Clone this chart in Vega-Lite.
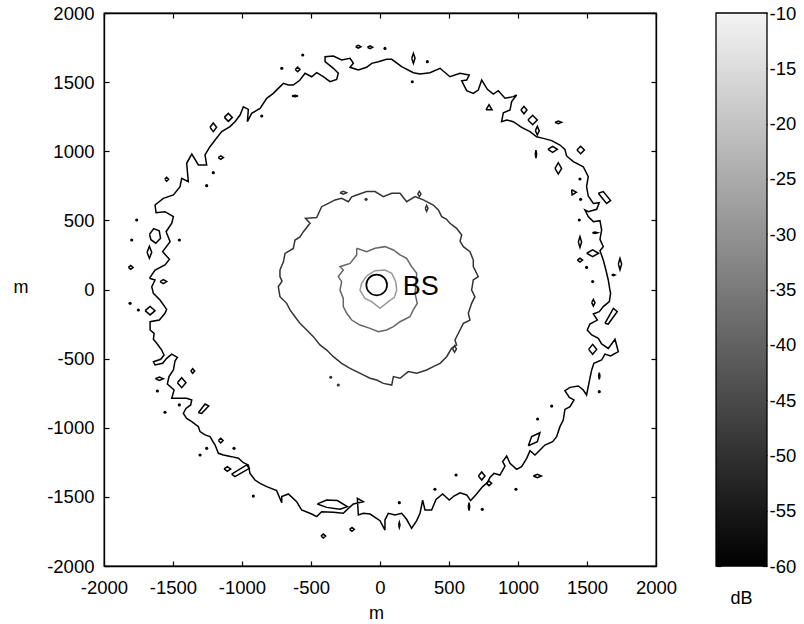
{
"$schema":"https://vega.github.io/schema/vega-lite/v6.json",
"width":552,"height":553,
"autosize":"none",
"padding":{"left":104,"top":13,"right":148,"bottom":58},
"config":{"font":"Liberation Sans","view":{"stroke":"#000","strokeWidth":1.3},
"axis":{"domainColor":"#000","domainWidth":1.3,"tickColor":"#000","tickWidth":1.2,"tickSize":-5,"labelColor":"#000","labelFontSize":18.5,"titleFontSize":18,"titleFontWeight":"normal","titleColor":"#000","grid":false,"labelFlush":false,"labelOverlap":false}},
"datasets":{
"rings":[
{"g":"o","v":-60,"x":-1671,"y":81},{"g":"o","v":-60,"x":-1630,"y":141},{"g":"o","v":-60,"x":-1558,"y":177},{"g":"o","v":-60,"x":-1526,"y":218},{"g":"o","v":-60,"x":-1575,"y":274},{"g":"o","v":-60,"x":-1521,"y":346},{"g":"o","v":-60,"x":-1550,"y":418},{"g":"o","v":-60,"x":-1509,"y":479},{"g":"o","v":-60,"x":-1497,"y":527},{"g":"o","v":-60,"x":-1558,"y":563},
{"g":"o","v":-60,"x":-1623,"y":556},{"g":"o","v":-60,"x":-1630,"y":611},{"g":"o","v":-60,"x":-1570,"y":659},{"g":"o","v":-60,"x":-1497,"y":684},{"g":"o","v":-60,"x":-1449,"y":744},{"g":"o","v":-60,"x":-1437,"y":804},{"g":"o","v":-60,"x":-1389,"y":780},{"g":"o","v":-60,"x":-1401,"y":913},{"g":"o","v":-60,"x":-1364,"y":980},{"g":"o","v":-60,"x":-1316,"y":901},
{"g":"o","v":-60,"x":-1256,"y":901},{"g":"o","v":-60,"x":-1268,"y":973},{"g":"o","v":-60,"x":-1232,"y":1033},{"g":"o","v":-60,"x":-1195,"y":1081},{"g":"o","v":-60,"x":-1147,"y":1142},{"g":"o","v":-60,"x":-1087,"y":1178},{"g":"o","v":-60,"x":-1051,"y":1214},{"g":"o","v":-60,"x":-1014,"y":1262},{"g":"o","v":-60,"x":-990,"y":1322},{"g":"o","v":-60,"x":-954,"y":1303},
{"g":"o","v":-60,"x":-961,"y":1214},{"g":"o","v":-60,"x":-930,"y":1274},{"g":"o","v":-60,"x":-869,"y":1310},{"g":"o","v":-60,"x":-821,"y":1383},{"g":"o","v":-60,"x":-773,"y":1419},{"g":"o","v":-60,"x":-737,"y":1455},{"g":"o","v":-60,"x":-700,"y":1491},{"g":"o","v":-60,"x":-664,"y":1479},{"g":"o","v":-60,"x":-628,"y":1479},{"g":"o","v":-60,"x":-580,"y":1515},
{"g":"o","v":-60,"x":-543,"y":1564},{"g":"o","v":-60,"x":-495,"y":1539},{"g":"o","v":-60,"x":-459,"y":1568},{"g":"o","v":-60,"x":-411,"y":1539},{"g":"o","v":-60,"x":-362,"y":1503},{"g":"o","v":-60,"x":-314,"y":1520},{"g":"o","v":-60,"x":-302,"y":1564},{"g":"o","v":-60,"x":-338,"y":1600},{"g":"o","v":-60,"x":-398,"y":1648},{"g":"o","v":-60,"x":-398,"y":1684},
{"g":"o","v":-60,"x":-338,"y":1689},{"g":"o","v":-60,"x":-278,"y":1660},{"g":"o","v":-60,"x":-217,"y":1672},{"g":"o","v":-60,"x":-193,"y":1636},{"g":"o","v":-60,"x":-217,"y":1607},{"g":"o","v":-60,"x":-157,"y":1588},{"g":"o","v":-60,"x":-97,"y":1607},{"g":"o","v":-60,"x":-60,"y":1636},{"g":"o","v":-60,"x":-12,"y":1648},{"g":"o","v":-60,"x":48,"y":1665},
{"g":"o","v":-60,"x":85,"y":1665},{"g":"o","v":-60,"x":157,"y":1612},{"g":"o","v":-60,"x":242,"y":1568},{"g":"o","v":-60,"x":290,"y":1559},{"g":"o","v":-60,"x":362,"y":1568},{"g":"o","v":-60,"x":435,"y":1600},{"g":"o","v":-60,"x":507,"y":1539},{"g":"o","v":-60,"x":580,"y":1564},{"g":"o","v":-60,"x":647,"y":1551},{"g":"o","v":-60,"x":628,"y":1515},
{"g":"o","v":-60,"x":592,"y":1510},{"g":"o","v":-60,"x":628,"y":1438},{"g":"o","v":-60,"x":676,"y":1419},{"g":"o","v":-60,"x":712,"y":1443},{"g":"o","v":-60,"x":737,"y":1515},{"g":"o","v":-60,"x":778,"y":1448},{"g":"o","v":-60,"x":821,"y":1414},{"g":"o","v":-60,"x":857,"y":1438},{"g":"o","v":-60,"x":906,"y":1383},{"g":"o","v":-60,"x":966,"y":1395},
{"g":"o","v":-60,"x":990,"y":1407},{"g":"o","v":-60,"x":954,"y":1359},{"g":"o","v":-60,"x":942,"y":1298},{"g":"o","v":-60,"x":894,"y":1279},{"g":"o","v":-60,"x":881,"y":1214},{"g":"o","v":-60,"x":918,"y":1226},{"g":"o","v":-60,"x":966,"y":1214},{"g":"o","v":-60,"x":1026,"y":1173},{"g":"o","v":-60,"x":1087,"y":1142},{"g":"o","v":-60,"x":1135,"y":1105},
{"g":"o","v":-60,"x":1183,"y":1093},{"g":"o","v":-60,"x":1244,"y":1077},{"g":"o","v":-60,"x":1304,"y":1045},{"g":"o","v":-60,"x":1340,"y":1014},{"g":"o","v":-60,"x":1352,"y":966},{"g":"o","v":-60,"x":1401,"y":925},{"g":"o","v":-60,"x":1473,"y":888},{"g":"o","v":-60,"x":1509,"y":816},{"g":"o","v":-60,"x":1497,"y":744},{"g":"o","v":-60,"x":1509,"y":676},
{"g":"o","v":-60,"x":1546,"y":623},{"g":"o","v":-60,"x":1589,"y":628},{"g":"o","v":-60,"x":1570,"y":580},{"g":"o","v":-60,"x":1509,"y":563},{"g":"o","v":-60,"x":1485,"y":575},{"g":"o","v":-60,"x":1509,"y":527},{"g":"o","v":-60,"x":1546,"y":491},{"g":"o","v":-60,"x":1594,"y":498},{"g":"o","v":-60,"x":1606,"y":430},{"g":"o","v":-60,"x":1594,"y":363},
{"g":"o","v":-60,"x":1618,"y":310},{"g":"o","v":-60,"x":1594,"y":281},{"g":"o","v":-60,"x":1618,"y":213},{"g":"o","v":-60,"x":1637,"y":141},{"g":"o","v":-60,"x":1654,"y":69},{"g":"o","v":-60,"x":1666,"y":-4},{"g":"o","v":-60,"x":1671,"y":-28},{"g":"o","v":-60,"x":1662,"y":-88},{"g":"o","v":-60,"x":1618,"y":-124},{"g":"o","v":-60,"x":1589,"y":-160},
{"g":"o","v":-60,"x":1546,"y":-177},{"g":"o","v":-60,"x":1575,"y":-221},{"g":"o","v":-60,"x":1521,"y":-250},{"g":"o","v":-60,"x":1502,"y":-293},{"g":"o","v":-60,"x":1534,"y":-329},{"g":"o","v":-60,"x":1582,"y":-353},{"g":"o","v":-60,"x":1606,"y":-394},{"g":"o","v":-60,"x":1654,"y":-426},{"g":"o","v":-60,"x":1703,"y":-360},{"g":"o","v":-60,"x":1727,"y":-450},
{"g":"o","v":-60,"x":1671,"y":-481},{"g":"o","v":-60,"x":1630,"y":-467},{"g":"o","v":-60,"x":1606,"y":-510},{"g":"o","v":-60,"x":1550,"y":-534},{"g":"o","v":-60,"x":1534,"y":-582},{"g":"o","v":-60,"x":1521,"y":-643},{"g":"o","v":-60,"x":1497,"y":-763},{"g":"o","v":-60,"x":1473,"y":-727},{"g":"o","v":-60,"x":1437,"y":-698},{"g":"o","v":-60,"x":1377,"y":-708},
{"g":"o","v":-60,"x":1340,"y":-732},{"g":"o","v":-60,"x":1372,"y":-780},{"g":"o","v":-60,"x":1406,"y":-799},{"g":"o","v":-60,"x":1377,"y":-847},{"g":"o","v":-60,"x":1340,"y":-867},{"g":"o","v":-60,"x":1328,"y":-944},{"g":"o","v":-60,"x":1304,"y":-992},{"g":"o","v":-60,"x":1280,"y":-1064},{"g":"o","v":-60,"x":1251,"y":-1101},{"g":"o","v":-60,"x":1195,"y":-1125},
{"g":"o","v":-60,"x":1147,"y":-1173},{"g":"o","v":-60,"x":1123,"y":-1197},{"g":"o","v":-60,"x":1087,"y":-1166},{"g":"o","v":-60,"x":1063,"y":-1221},{"g":"o","v":-60,"x":1026,"y":-1281},{"g":"o","v":-60,"x":990,"y":-1301},{"g":"o","v":-60,"x":942,"y":-1257},{"g":"o","v":-60,"x":918,"y":-1204},{"g":"o","v":-60,"x":889,"y":-1245},{"g":"o","v":-60,"x":906,"y":-1277},
{"g":"o","v":-60,"x":869,"y":-1342},{"g":"o","v":-60,"x":826,"y":-1330},{"g":"o","v":-60,"x":797,"y":-1359},{"g":"o","v":-60,"x":778,"y":-1397},{"g":"o","v":-60,"x":744,"y":-1426},{"g":"o","v":-60,"x":700,"y":-1479},{"g":"o","v":-60,"x":657,"y":-1527},{"g":"o","v":-60,"x":628,"y":-1486},{"g":"o","v":-60,"x":580,"y":-1470},{"g":"o","v":-60,"x":536,"y":-1494},
{"g":"o","v":-60,"x":502,"y":-1523},{"g":"o","v":-60,"x":454,"y":-1479},{"g":"o","v":-60,"x":406,"y":-1518},{"g":"o","v":-60,"x":374,"y":-1595},{"g":"o","v":-60,"x":326,"y":-1595},{"g":"o","v":-60,"x":309,"y":-1523},{"g":"o","v":-60,"x":290,"y":-1619},{"g":"o","v":-60,"x":266,"y":-1672},{"g":"o","v":-60,"x":229,"y":-1727},{"g":"o","v":-60,"x":193,"y":-1662},
{"g":"o","v":-60,"x":157,"y":-1619},{"g":"o","v":-60,"x":109,"y":-1631},{"g":"o","v":-60,"x":60,"y":-1619},{"g":"o","v":-60,"x":36,"y":-1667},{"g":"o","v":-60,"x":36,"y":-1740},{"g":"o","v":-60,"x":0,"y":-1672},{"g":"o","v":-60,"x":-72,"y":-1624},{"g":"o","v":-60,"x":-121,"y":-1619},{"g":"o","v":-60,"x":-157,"y":-1631},{"g":"o","v":-60,"x":-164,"y":-1511},
{"g":"o","v":-60,"x":-121,"y":-1535},{"g":"o","v":-60,"x":-193,"y":-1551},{"g":"o","v":-60,"x":-229,"y":-1583},{"g":"o","v":-60,"x":-266,"y":-1619},{"g":"o","v":-60,"x":-338,"y":-1612},{"g":"o","v":-60,"x":-423,"y":-1607},{"g":"o","v":-60,"x":-459,"y":-1643},{"g":"o","v":-60,"x":-495,"y":-1624},{"g":"o","v":-60,"x":-568,"y":-1595},{"g":"o","v":-60,"x":-604,"y":-1535},
{"g":"o","v":-60,"x":-664,"y":-1479},{"g":"o","v":-60,"x":-712,"y":-1498},{"g":"o","v":-60,"x":-712,"y":-1542},{"g":"o","v":-60,"x":-749,"y":-1455},{"g":"o","v":-60,"x":-821,"y":-1426},{"g":"o","v":-60,"x":-869,"y":-1402},{"g":"o","v":-60,"x":-906,"y":-1378},{"g":"o","v":-60,"x":-942,"y":-1330},{"g":"o","v":-60,"x":-954,"y":-1269},{"g":"o","v":-60,"x":-990,"y":-1253},
{"g":"o","v":-60,"x":-1026,"y":-1221},{"g":"o","v":-60,"x":-1075,"y":-1209},{"g":"o","v":-60,"x":-1135,"y":-1197},{"g":"o","v":-60,"x":-1171,"y":-1185},{"g":"o","v":-60,"x":-1195,"y":-1125},{"g":"o","v":-60,"x":-1232,"y":-1064},{"g":"o","v":-60,"x":-1268,"y":-1052},{"g":"o","v":-60,"x":-1304,"y":-1028},{"g":"o","v":-60,"x":-1316,"y":-992},{"g":"o","v":-60,"x":-1364,"y":-956},
{"g":"o","v":-60,"x":-1401,"y":-932},{"g":"o","v":-60,"x":-1425,"y":-896},{"g":"o","v":-60,"x":-1406,"y":-860},{"g":"o","v":-60,"x":-1372,"y":-835},{"g":"o","v":-60,"x":-1364,"y":-799},{"g":"o","v":-60,"x":-1401,"y":-787},{"g":"o","v":-60,"x":-1454,"y":-787},{"g":"o","v":-60,"x":-1509,"y":-787},{"g":"o","v":-60,"x":-1492,"y":-727},{"g":"o","v":-60,"x":-1541,"y":-684},
{"g":"o","v":-60,"x":-1529,"y":-630},{"g":"o","v":-60,"x":-1497,"y":-582},{"g":"o","v":-60,"x":-1485,"y":-515},{"g":"o","v":-60,"x":-1468,"y":-491},{"g":"o","v":-60,"x":-1509,"y":-467},{"g":"o","v":-60,"x":-1546,"y":-498},{"g":"o","v":-60,"x":-1575,"y":-534},{"g":"o","v":-60,"x":-1630,"y":-546},{"g":"o","v":-60,"x":-1642,"y":-522},{"g":"o","v":-60,"x":-1589,"y":-505},
{"g":"o","v":-60,"x":-1565,"y":-474},{"g":"o","v":-60,"x":-1582,"y":-438},{"g":"o","v":-60,"x":-1618,"y":-389},{"g":"o","v":-60,"x":-1642,"y":-360},{"g":"o","v":-60,"x":-1637,"y":-317},{"g":"o","v":-60,"x":-1666,"y":-293},{"g":"o","v":-60,"x":-1666,"y":-233},{"g":"o","v":-60,"x":-1599,"y":-221},{"g":"o","v":-60,"x":-1558,"y":-172},{"g":"o","v":-60,"x":-1546,"y":-143},
{"g":"o","v":-60,"x":-1594,"y":-76},{"g":"o","v":-60,"x":-1642,"y":-28},{"g":"o","v":-60,"x":-1654,"y":20},{"g":"o","v":-60,"x":-1630,"y":69},{"g":"o","v":-60,"x":-1671,"y":81},
{"g":"m","v":-50,"x":-725,"y":141},{"g":"m","v":-50,"x":-700,"y":200},{"g":"m","v":-50,"x":-688,"y":261},{"g":"m","v":-50,"x":-628,"y":297},{"g":"m","v":-50,"x":-616,"y":358},{"g":"m","v":-50,"x":-580,"y":380},{"g":"m","v":-50,"x":-555,"y":418},{"g":"m","v":-50,"x":-507,"y":479},{"g":"m","v":-50,"x":-540,"y":515},{"g":"m","v":-50,"x":-459,"y":520},{"g":"m","v":-50,"x":-423,"y":599},{"g":"m","v":-50,"x":-374,"y":623},
{"g":"m","v":-50,"x":-326,"y":648},{"g":"m","v":-50,"x":-278,"y":659},{"g":"m","v":-50,"x":-229,"y":635},{"g":"m","v":-50,"x":-205,"y":670},{"g":"m","v":-50,"x":-169,"y":684},{"g":"m","v":-50,"x":-97,"y":708},{"g":"m","v":-50,"x":-36,"y":708},{"g":"m","v":-50,"x":24,"y":672},{"g":"m","v":-50,"x":85,"y":696},{"g":"m","v":-50,"x":145,"y":696},{"g":"m","v":-50,"x":193,"y":635},
{"g":"m","v":-50,"x":254,"y":672},{"g":"m","v":-50,"x":314,"y":648},{"g":"m","v":-50,"x":386,"y":611},{"g":"m","v":-50,"x":423,"y":575},{"g":"m","v":-50,"x":447,"y":527},{"g":"m","v":-50,"x":480,"y":510},{"g":"m","v":-50,"x":507,"y":479},{"g":"m","v":-50,"x":555,"y":442},{"g":"m","v":-50,"x":592,"y":394},{"g":"m","v":-50,"x":580,"y":350},{"g":"m","v":-50,"x":604,"y":310},{"g":"m","v":-50,"x":652,"y":274},
{"g":"m","v":-50,"x":676,"y":213},{"g":"m","v":-50,"x":676,"y":165},{"g":"m","v":-50,"x":712,"y":93},{"g":"m","v":-50,"x":676,"y":69},{"g":"m","v":-50,"x":664,"y":-4},{"g":"m","v":-50,"x":688,"y":-52},{"g":"m","v":-50,"x":664,"y":-100},{"g":"m","v":-50,"x":640,"y":-172},{"g":"m","v":-50,"x":652,"y":-221},{"g":"m","v":-50,"x":604,"y":-245},
{"g":"m","v":-50,"x":580,"y":-293},{"g":"m","v":-50,"x":543,"y":-365},{"g":"m","v":-50,"x":555,"y":-401},{"g":"m","v":-50,"x":519,"y":-426},{"g":"m","v":-50,"x":483,"y":-486},{"g":"m","v":-50,"x":435,"y":-534},{"g":"m","v":-50,"x":386,"y":-558},{"g":"m","v":-50,"x":338,"y":-582},{"g":"m","v":-50,"x":266,"y":-606},{"g":"m","v":-50,"x":205,"y":-594},
{"g":"m","v":-50,"x":145,"y":-642},{"g":"m","v":-50,"x":97,"y":-630},{"g":"m","v":-50,"x":85,"y":-691},{"g":"m","v":-50,"x":24,"y":-679},{"g":"m","v":-50,"x":-24,"y":-655},{"g":"m","v":-50,"x":-72,"y":-642},{"g":"m","v":-50,"x":-121,"y":-618},{"g":"m","v":-50,"x":-169,"y":-594},{"g":"m","v":-50,"x":-217,"y":-570},{"g":"m","v":-50,"x":-278,"y":-534},
{"g":"m","v":-50,"x":-338,"y":-486},{"g":"m","v":-50,"x":-386,"y":-438},{"g":"m","v":-50,"x":-435,"y":-401},{"g":"m","v":-50,"x":-483,"y":-341},{"g":"m","v":-50,"x":-531,"y":-293},{"g":"m","v":-50,"x":-580,"y":-245},{"g":"m","v":-50,"x":-616,"y":-197},{"g":"m","v":-50,"x":-652,"y":-148},{"g":"m","v":-50,"x":-676,"y":-100},{"g":"m","v":-50,"x":-725,"y":-52},
{"g":"m","v":-50,"x":-737,"y":20},{"g":"m","v":-50,"x":-710,"y":60},{"g":"m","v":-50,"x":-725,"y":93},{"g":"m","v":-50,"x":-725,"y":141},
{"g":"n","v":-40,"x":-169,"y":298},{"g":"n","v":-40,"x":-97,"y":274},{"g":"n","v":-40,"x":-36,"y":298},{"g":"n","v":-40,"x":36,"y":310},{"g":"n","v":-40,"x":97,"y":286},{"g":"n","v":-40,"x":145,"y":250},{"g":"n","v":-40,"x":193,"y":225},{"g":"n","v":-40,"x":229,"y":165},{"g":"n","v":-40,"x":266,"y":117},{"g":"n","v":-40,"x":261,"y":45},
{"g":"n","v":-40,"x":254,"y":-28},{"g":"n","v":-40,"x":270,"y":-100},{"g":"n","v":-40,"x":241,"y":-148},{"g":"n","v":-40,"x":217,"y":-197},{"g":"n","v":-40,"x":145,"y":-233},{"g":"n","v":-40,"x":97,"y":-269},{"g":"n","v":-40,"x":48,"y":-293},{"g":"n","v":-40,"x":-12,"y":-305},{"g":"n","v":-40,"x":-72,"y":-281},{"g":"n","v":-40,"x":-145,"y":-257},
{"g":"n","v":-40,"x":-205,"y":-221},{"g":"n","v":-40,"x":-241,"y":-172},{"g":"n","v":-40,"x":-266,"y":-124},{"g":"n","v":-40,"x":-266,"y":-64},{"g":"n","v":-40,"x":-290,"y":-4},{"g":"n","v":-40,"x":-278,"y":57},{"g":"n","v":-40,"x":-302,"y":93},{"g":"n","v":-40,"x":-266,"y":141},{"g":"n","v":-40,"x":-290,"y":165},{"g":"n","v":-40,"x":-217,"y":189},
{"g":"n","v":-40,"x":-169,"y":250},{"g":"n","v":-40,"x":-169,"y":298},
{"g":"p","v":-30,"x":-97,"y":98},{"g":"p","v":-30,"x":-36,"y":136},{"g":"p","v":-30,"x":36,"y":141},{"g":"p","v":-30,"x":85,"y":117},{"g":"p","v":-30,"x":114,"y":57},{"g":"p","v":-30,"x":121,"y":-4},{"g":"p","v":-30,"x":104,"y":-57},{"g":"p","v":-30,"x":60,"y":-88},{"g":"p","v":-30,"x":0,"y":-136},{"g":"p","v":-30,"x":-60,"y":-88},
{"g":"p","v":-30,"x":-109,"y":-64},{"g":"p","v":-30,"x":-145,"y":-4},{"g":"p","v":-30,"x":-133,"y":45},{"g":"p","v":-30,"x":-97,"y":98},
{"g":"i1","v":-60,"x":-176,"y":1756},{"g":"i1","v":-60,"x":-157,"y":1766},{"g":"i1","v":-60,"x":-138,"y":1756},{"g":"i1","v":-60,"x":-157,"y":1746},{"g":"i1","v":-60,"x":-176,"y":1756},
{"g":"i2","v":-60,"x":-91,"y":1752},{"g":"i2","v":-60,"x":-72,"y":1762},{"g":"i2","v":-60,"x":-53,"y":1752},{"g":"i2","v":-60,"x":-72,"y":1742},{"g":"i2","v":-60,"x":-91,"y":1752},
{"g":"i3","v":-60,"x":-614,"y":1592},{"g":"i3","v":-60,"x":-597,"y":1609},{"g":"i3","v":-60,"x":-580,"y":1592},{"g":"i3","v":-60,"x":-597,"y":1575},{"g":"i3","v":-60,"x":-614,"y":1592},
{"g":"i4","v":-60,"x":-1128,"y":1245},{"g":"i4","v":-60,"x":-1099,"y":1274},{"g":"i4","v":-60,"x":-1070,"y":1245},{"g":"i4","v":-60,"x":-1099,"y":1216},{"g":"i4","v":-60,"x":-1128,"y":1245},
{"g":"i5","v":-60,"x":-1232,"y":1173},{"g":"i5","v":-60,"x":-1208,"y":1204},{"g":"i5","v":-60,"x":-1184,"y":1173},{"g":"i5","v":-60,"x":-1208,"y":1142},{"g":"i5","v":-60,"x":-1232,"y":1173},
{"g":"i6","v":-60,"x":-1173,"y":954},{"g":"i6","v":-60,"x":-1154,"y":966},{"g":"i6","v":-60,"x":-1135,"y":954},{"g":"i6","v":-60,"x":-1154,"y":942},{"g":"i6","v":-60,"x":-1173,"y":954},
{"g":"i7","v":-60,"x":-1560,"y":797},{"g":"i7","v":-60,"x":-1546,"y":811},{"g":"i7","v":-60,"x":-1532,"y":797},{"g":"i7","v":-60,"x":-1546,"y":783},{"g":"i7","v":-60,"x":-1560,"y":797},
{"g":"i8","v":-60,"x":-1670,"y":400},{"g":"i8","v":-60,"x":-1640,"y":440},{"g":"i8","v":-60,"x":-1600,"y":425},{"g":"i8","v":-60,"x":-1590,"y":370},{"g":"i8","v":-60,"x":-1625,"y":335},{"g":"i8","v":-60,"x":-1660,"y":360},{"g":"i8","v":-60,"x":-1670,"y":400},
{"g":"i9","v":-60,"x":-1688,"y":269},{"g":"i9","v":-60,"x":-1671,"y":312},{"g":"i9","v":-60,"x":-1654,"y":269},{"g":"i9","v":-60,"x":-1671,"y":226},{"g":"i9","v":-60,"x":-1688,"y":269},
{"g":"i10","v":-60,"x":-1823,"y":160},{"g":"i10","v":-60,"x":-1806,"y":174},{"g":"i10","v":-60,"x":-1789,"y":160},{"g":"i10","v":-60,"x":-1806,"y":146},{"g":"i10","v":-60,"x":-1823,"y":160},
{"g":"i11","v":-60,"x":-1594,"y":57},{"g":"i11","v":-60,"x":-1570,"y":71},{"g":"i11","v":-60,"x":-1546,"y":57},{"g":"i11","v":-60,"x":-1570,"y":43},{"g":"i11","v":-60,"x":-1594,"y":57},
{"g":"i12","v":-60,"x":-638,"y":1400},{"g":"i12","v":-60,"x":-616,"y":1405},{"g":"i12","v":-60,"x":-594,"y":1400},{"g":"i12","v":-60,"x":-616,"y":1395},{"g":"i12","v":-60,"x":-638,"y":1400},
{"g":"i13","v":-60,"x":230,"y":1672},{"g":"i13","v":-60,"x":242,"y":1708},{"g":"i13","v":-60,"x":254,"y":1672},{"g":"i13","v":-60,"x":242,"y":1636},{"g":"i13","v":-60,"x":230,"y":1672},
{"g":"i14","v":-60,"x":768,"y":1300},{"g":"i14","v":-60,"x":790,"y":1337},{"g":"i14","v":-60,"x":812,"y":1300},{"g":"i14","v":-60,"x":768,"y":1300},
{"g":"i15","v":-60,"x":1021,"y":1298},{"g":"i15","v":-60,"x":1043,"y":1325},{"g":"i15","v":-60,"x":1065,"y":1298},{"g":"i15","v":-60,"x":1043,"y":1271},{"g":"i15","v":-60,"x":1021,"y":1298},
{"g":"i16","v":-60,"x":1072,"y":1226},{"g":"i16","v":-60,"x":1106,"y":1260},{"g":"i16","v":-60,"x":1140,"y":1226},{"g":"i16","v":-60,"x":1106,"y":1192},{"g":"i16","v":-60,"x":1072,"y":1226},
{"g":"i17","v":-60,"x":1126,"y":1149},{"g":"i17","v":-60,"x":1140,"y":1180},{"g":"i17","v":-60,"x":1154,"y":1149},{"g":"i17","v":-60,"x":1140,"y":1118},{"g":"i17","v":-60,"x":1126,"y":1149},
{"g":"i18","v":-60,"x":1268,"y":1209},{"g":"i18","v":-60,"x":1292,"y":1219},{"g":"i18","v":-60,"x":1316,"y":1209},{"g":"i18","v":-60,"x":1292,"y":1199},{"g":"i18","v":-60,"x":1268,"y":1209},
{"g":"i19","v":-60,"x":1217,"y":1014},{"g":"i19","v":-60,"x":1251,"y":1036},{"g":"i19","v":-60,"x":1285,"y":1014},{"g":"i19","v":-60,"x":1251,"y":992},{"g":"i19","v":-60,"x":1217,"y":1014},
{"g":"i20","v":-60,"x":1427,"y":1009},{"g":"i20","v":-60,"x":1454,"y":1036},{"g":"i20","v":-60,"x":1481,"y":1009},{"g":"i20","v":-60,"x":1454,"y":982},{"g":"i20","v":-60,"x":1427,"y":1009},
{"g":"i21","v":-60,"x":1125,"y":980},{"g":"i21","v":-60,"x":1130,"y":1009},{"g":"i21","v":-60,"x":1135,"y":980},{"g":"i21","v":-60,"x":1130,"y":951},{"g":"i21","v":-60,"x":1125,"y":980},
{"g":"i22","v":-60,"x":1268,"y":876},{"g":"i22","v":-60,"x":1292,"y":917},{"g":"i22","v":-60,"x":1316,"y":876},{"g":"i22","v":-60,"x":1292,"y":835},{"g":"i22","v":-60,"x":1268,"y":876},
{"g":"i23","v":-60,"x":1389,"y":722},{"g":"i23","v":-60,"x":1423,"y":703},{"g":"i23","v":-60,"x":1392,"y":684},{"g":"i23","v":-60,"x":1389,"y":722},
{"g":"i24","v":-60,"x":1582,"y":696},{"g":"i24","v":-60,"x":1618,"y":708},{"g":"i24","v":-60,"x":1671,"y":643},{"g":"i24","v":-60,"x":1642,"y":623},{"g":"i24","v":-60,"x":1582,"y":696},
{"g":"i25","v":-60,"x":1539,"y":411},{"g":"i25","v":-60,"x":1558,"y":416},{"g":"i25","v":-60,"x":1577,"y":411},{"g":"i25","v":-60,"x":1558,"y":406},{"g":"i25","v":-60,"x":1539,"y":411},
{"g":"i26","v":-60,"x":1437,"y":344},{"g":"i26","v":-60,"x":1449,"y":383},{"g":"i26","v":-60,"x":1461,"y":344},{"g":"i26","v":-60,"x":1449,"y":305},{"g":"i26","v":-60,"x":1437,"y":344},
{"g":"i27","v":-60,"x":1498,"y":262},{"g":"i27","v":-60,"x":1541,"y":286},{"g":"i27","v":-60,"x":1584,"y":262},{"g":"i27","v":-60,"x":1541,"y":238},{"g":"i27","v":-60,"x":1498,"y":262},
{"g":"i28","v":-60,"x":1430,"y":213},{"g":"i28","v":-60,"x":1449,"y":227},{"g":"i28","v":-60,"x":1468,"y":213},{"g":"i28","v":-60,"x":1449,"y":199},{"g":"i28","v":-60,"x":1430,"y":213},
{"g":"i29","v":-60,"x":1727,"y":184},{"g":"i29","v":-60,"x":1739,"y":225},{"g":"i29","v":-60,"x":1751,"y":184},{"g":"i29","v":-60,"x":1739,"y":143},{"g":"i29","v":-60,"x":1727,"y":184},
{"g":"i30","v":-60,"x":1679,"y":105},{"g":"i30","v":-60,"x":1691,"y":110},{"g":"i30","v":-60,"x":1703,"y":105},{"g":"i30","v":-60,"x":1691,"y":100},{"g":"i30","v":-60,"x":1679,"y":105},
{"g":"i31","v":-60,"x":1534,"y":-95},{"g":"i31","v":-60,"x":1546,"y":-71},{"g":"i31","v":-60,"x":1558,"y":-95},{"g":"i31","v":-60,"x":1546,"y":-119},{"g":"i31","v":-60,"x":1534,"y":-95},
{"g":"i32","v":-60,"x":1630,"y":-245},{"g":"i32","v":-60,"x":1691,"y":-136},{"g":"i32","v":-60,"x":1719,"y":-160},{"g":"i32","v":-60,"x":1654,"y":-250},{"g":"i32","v":-60,"x":1630,"y":-245},
{"g":"i33","v":-60,"x":1512,"y":-433},{"g":"i33","v":-60,"x":1541,"y":-397},{"g":"i33","v":-60,"x":1570,"y":-433},{"g":"i33","v":-60,"x":1541,"y":-469},{"g":"i33","v":-60,"x":1512,"y":-433},
{"g":"i34","v":-60,"x":1584,"y":-626},{"g":"i34","v":-60,"x":1589,"y":-602},{"g":"i34","v":-60,"x":1594,"y":-626},{"g":"i34","v":-60,"x":1589,"y":-650},{"g":"i34","v":-60,"x":1584,"y":-626},
{"g":"i35","v":-60,"x":1075,"y":-1130},{"g":"i35","v":-60,"x":1099,"y":-1064},{"g":"i35","v":-60,"x":1159,"y":-1036},{"g":"i35","v":-60,"x":1140,"y":-1101},{"g":"i35","v":-60,"x":1075,"y":-1130},
{"g":"i36","v":-60,"x":1111,"y":-1349},{"g":"i36","v":-60,"x":1140,"y":-1337},{"g":"i36","v":-60,"x":1169,"y":-1349},{"g":"i36","v":-60,"x":1140,"y":-1361},{"g":"i36","v":-60,"x":1111,"y":-1349},
{"g":"i37","v":-60,"x":713,"y":-1349},{"g":"i37","v":-60,"x":737,"y":-1320},{"g":"i37","v":-60,"x":761,"y":-1349},{"g":"i37","v":-60,"x":737,"y":-1378},{"g":"i37","v":-60,"x":713,"y":-1349},
{"g":"i38","v":-60,"x":771,"y":-1402},{"g":"i38","v":-60,"x":790,"y":-1385},{"g":"i38","v":-60,"x":809,"y":-1402},{"g":"i38","v":-60,"x":790,"y":-1419},{"g":"i38","v":-60,"x":771,"y":-1402},
{"g":"i39","v":-60,"x":640,"y":-1571},{"g":"i39","v":-60,"x":645,"y":-1542},{"g":"i39","v":-60,"x":650,"y":-1571},{"g":"i39","v":-60,"x":645,"y":-1600},{"g":"i39","v":-60,"x":640,"y":-1571},
{"g":"i40","v":-60,"x":135,"y":-1703},{"g":"i40","v":-60,"x":140,"y":-1684},{"g":"i40","v":-60,"x":145,"y":-1703},{"g":"i40","v":-60,"x":140,"y":-1722},{"g":"i40","v":-60,"x":135,"y":-1703},
{"g":"i41","v":-60,"x":-1702,"y":-153},{"g":"i41","v":-60,"x":-1666,"y":-122},{"g":"i41","v":-60,"x":-1630,"y":-153},{"g":"i41","v":-60,"x":-1666,"y":-184},{"g":"i41","v":-60,"x":-1702,"y":-153},
{"g":"i42","v":-60,"x":-1371,"y":-589},{"g":"i42","v":-60,"x":-1357,"y":-572},{"g":"i42","v":-60,"x":-1343,"y":-589},{"g":"i42","v":-60,"x":-1357,"y":-606},{"g":"i42","v":-60,"x":-1371,"y":-589},
{"g":"i43","v":-60,"x":-1628,"y":-645},{"g":"i43","v":-60,"x":-1599,"y":-633},{"g":"i43","v":-60,"x":-1570,"y":-645},{"g":"i43","v":-60,"x":-1599,"y":-657},{"g":"i43","v":-60,"x":-1628,"y":-645},
{"g":"i44","v":-60,"x":-1468,"y":-674},{"g":"i44","v":-60,"x":-1437,"y":-638},{"g":"i44","v":-60,"x":-1406,"y":-674},{"g":"i44","v":-60,"x":-1437,"y":-710},{"g":"i44","v":-60,"x":-1468,"y":-674},
{"g":"i45","v":-60,"x":-1316,"y":-891},{"g":"i45","v":-60,"x":-1268,"y":-828},{"g":"i45","v":-60,"x":-1241,"y":-843},{"g":"i45","v":-60,"x":-1292,"y":-896},{"g":"i45","v":-60,"x":-1316,"y":-891},
{"g":"i46","v":-60,"x":-1171,"y":-1093},{"g":"i46","v":-60,"x":-1154,"y":-1076},{"g":"i46","v":-60,"x":-1137,"y":-1093},{"g":"i46","v":-60,"x":-1154,"y":-1110},{"g":"i46","v":-60,"x":-1171,"y":-1093},
{"g":"i47","v":-60,"x":-1130,"y":-1298},{"g":"i47","v":-60,"x":-1106,"y":-1281},{"g":"i47","v":-60,"x":-1082,"y":-1298},{"g":"i47","v":-60,"x":-1106,"y":-1315},{"g":"i47","v":-60,"x":-1130,"y":-1298},
{"g":"i48","v":-60,"x":-1075,"y":-1335},{"g":"i48","v":-60,"x":-966,"y":-1269},{"g":"i48","v":-60,"x":-947,"y":-1294},{"g":"i48","v":-60,"x":-1051,"y":-1354},{"g":"i48","v":-60,"x":-1075,"y":-1335},
{"g":"i49","v":-60,"x":-220,"y":-1735},{"g":"i49","v":-60,"x":-203,"y":-1721},{"g":"i49","v":-60,"x":-186,"y":-1735},{"g":"i49","v":-60,"x":-203,"y":-1749},{"g":"i49","v":-60,"x":-220,"y":-1735},
{"g":"i50","v":-60,"x":-428,"y":-1783},{"g":"i50","v":-60,"x":-411,"y":-1769},{"g":"i50","v":-60,"x":-394,"y":-1783},{"g":"i50","v":-60,"x":-411,"y":-1797},{"g":"i50","v":-60,"x":-428,"y":-1783},
{"g":"i51","v":-60,"x":-454,"y":-1551},{"g":"i51","v":-60,"x":-386,"y":-1523},{"g":"i51","v":-60,"x":-309,"y":-1527},{"g":"i51","v":-60,"x":-237,"y":-1571},{"g":"i51","v":-60,"x":-290,"y":-1590},{"g":"i51","v":-60,"x":-386,"y":-1576},{"g":"i51","v":-60,"x":-454,"y":-1551},
{"g":"m1","v":-50,"x":-290,"y":700},{"g":"m1","v":-50,"x":-266,"y":710},{"g":"m1","v":-50,"x":-242,"y":700},{"g":"m1","v":-50,"x":-266,"y":690},{"g":"m1","v":-50,"x":-290,"y":700},
{"g":"m2","v":-50,"x":273,"y":691},{"g":"m2","v":-50,"x":285,"y":710},{"g":"m2","v":-50,"x":297,"y":691},{"g":"m2","v":-50,"x":285,"y":672},{"g":"m2","v":-50,"x":273,"y":691},
{"g":"m3","v":-50,"x":328,"y":587},{"g":"m3","v":-50,"x":338,"y":609},{"g":"m3","v":-50,"x":348,"y":587},{"g":"m3","v":-50,"x":338,"y":565},{"g":"m3","v":-50,"x":328,"y":587},
{"g":"m4","v":-50,"x":526,"y":-430},{"g":"m4","v":-50,"x":540,"y":-406},{"g":"m4","v":-50,"x":554,"y":-430},{"g":"m4","v":-50,"x":540,"y":-454},{"g":"m4","v":-50,"x":526,"y":-430}
],
"dots":[
{"v":-60,"x":36,"y":1744},{"v":-60,"x":-560,"y":1696},{"v":-60,"x":-712,"y":1600},{"v":-60,"x":-857,"y":1255},{"v":-60,"x":-1208,"y":845},{"v":-60,"x":-1256,"y":751},{"v":-60,"x":-1763,"y":503},{"v":-60,"x":-1799,"y":358},{"v":-60,"x":-1454,"y":358},{"v":-60,"x":343,"y":1648},
{"v":-60,"x":234,"y":1503},{"v":-60,"x":1449,"y":799},{"v":-60,"x":1454,"y":652},{"v":-60,"x":1444,"y":503},{"v":-60,"x":1497,"y":160},{"v":-60,"x":1541,"y":57},{"v":-60,"x":1589,"y":-739},{"v":-60,"x":1244,"y":-843},{"v":-60,"x":1142,"y":-937},{"v":-60,"x":985,"y":-1445},
{"v":-60,"x":551,"y":-1342},{"v":-60,"x":398,"y":-1445},{"v":-60,"x":741,"y":-1590},{"v":-60,"x":140,"y":-1542},{"v":-60,"x":-1811,"y":-100},{"v":-60,"x":-1751,"y":-148},{"v":-60,"x":-1613,"y":-734},{"v":-60,"x":-1454,"y":-835},{"v":-60,"x":-1558,"y":-888},{"v":-60,"x":-1058,"y":-1149},
{"v":-60,"x":-1256,"y":-1149},{"v":-60,"x":-1304,"y":-1197},{"v":-60,"x":-918,"y":-1494},{"v":-50,"x":-357,"y":-635},{"v":-50,"x":-302,"y":-691},{"v":-50,"x":-101,"y":652}
],
"bar":[{"lo":-60,"hi":-10,"a":0,"b":1}]
},
"layer":[
{"data":{"name":"rings"},"mark":{"type":"line","strokeWidth":1.5},
"encoding":{
"x":{"field":"x","type":"quantitative","scale":{"domain":[-2000,2000],"nice":false,"zero":false},"axis":{"orient":"bottom","values":[-2000,-1500,-1000,-500,0,500,1000,1500,2000],"labelExpr":"toString(datum.value)","labelPadding":17,"title":"m","titleX":272,"titleY":52,"titleBaseline":"alphabetic","titleAlign":"center"}},
"y":{"field":"y","type":"quantitative","scale":{"domain":[-2000,2000],"nice":false,"zero":false},"axis":{"orient":"left","values":[-2000,-1500,-1000,-500,0,500,1000,1500,2000],"labelExpr":"toString(datum.value)","labelPadding":15,"title":"m","titleAngle":0,"titleX":-83.5,"titleY":279,"titleAlign":"center","titleBaseline":"alphabetic"}},
"color":{"field":"v","type":"quantitative","scale":{"domain":[-60,-10],"range":["#000000","#ffffff"],"interpolate":"rgb"},"legend":null},
"detail":{"field":"g","type":"nominal"},
"order":{"value":null}}},
{"data":{"name":"dots"},"mark":{"type":"point","filled":true,"shape":"circle","size":10,"opacity":1},
"encoding":{"x":{"field":"x","type":"quantitative","scale":{"domain":[-2000,2000],"nice":false,"zero":false},"axis":null},"y":{"field":"y","type":"quantitative","scale":{"domain":[-2000,2000],"nice":false,"zero":false},"axis":null},
"color":{"field":"v","type":"quantitative","legend":null}}},
{"data":{"values":[{"x":-24,"y":33}]},"mark":{"type":"point","shape":"circle","size":430,"filled":false,"stroke":"#000","strokeWidth":1.7,"opacity":1},
"encoding":{"x":{"field":"x","type":"quantitative","scale":{"domain":[-2000,2000],"nice":false,"zero":false},"axis":null},"y":{"field":"y","type":"quantitative","scale":{"domain":[-2000,2000],"nice":false,"zero":false},"axis":null}}},
{"data":{"values":[{"x":165,"y":-40,"t":"BS"}]},"mark":{"type":"text","align":"left","baseline":"alphabetic","fontSize":27,"color":"#000"},
"encoding":{"text":{"field":"t"},
"x":{"field":"x","type":"quantitative","scale":{"domain":[-2000,2000],"nice":false,"zero":false},"axis":{"orient":"top","values":[-2000,-1500,-1000,-500,0,500,1000,1500,2000],"labels":false,"title":null}},
"y":{"field":"y","type":"quantitative","scale":{"domain":[-2000,2000],"nice":false,"zero":false},"axis":{"orient":"right","values":[-2000,-1500,-1000,-500,0,500,1000,1500,2000],"labels":false,"title":null}}}},
{"data":{"name":"bar"},"mark":{"type":"rect","stroke":"#000","strokeWidth":1.3,"color":{"gradient":"linear","x1":0,"y1":1,"x2":0,"y2":0,"stops":[{"offset":0,"color":"#000000"},{"offset":1,"color":"#f4f4f4"}]}},
"encoding":{"x":{"field":"a","type":"quantitative","scale":{"domain":[0,1],"range":[612,663],"nice":false,"zero":false},"axis":null},"x2":{"field":"b"},
"y":{"field":"lo","type":"quantitative","scale":{"domain":[-60,-10],"nice":false,"zero":false},"axis":{"orient":"right","offset":111,"values":[-60,-55,-50,-45,-40,-35,-30,-25,-20,-15,-10],"labelExpr":"toString(datum.value)","labelPadding":7,"domain":false,"title":"dB","titleAngle":0,"titleX":-26,"titleY":590,"titleAlign":"center","titleBaseline":"alphabetic"}},"y2":{"field":"hi"}}},
{"data":{"name":"bar"},"mark":{"type":"rect","opacity":0},
"encoding":{"x":{"field":"a","type":"quantitative","scale":{"domain":[0,1],"range":[612,663],"nice":false,"zero":false},"axis":null},"x2":{"field":"b"},
"y":{"field":"lo","type":"quantitative","scale":{"domain":[-60,-10],"nice":false,"zero":false},"axis":{"orient":"left","offset":-612,"values":[-60,-55,-50,-45,-40,-35,-30,-25,-20,-15,-10],"labels":false,"domain":false,"title":null}},"y2":{"field":"hi"}}}
],
"resolve":{"scale":{"x":"independent","y":"independent"}}
}
